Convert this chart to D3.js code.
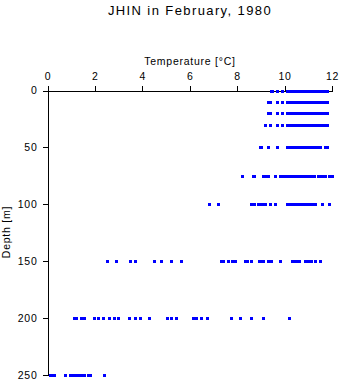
<!DOCTYPE html>
<html><head><meta charset="utf-8">
<script src="https://cdn.jsdelivr.net/npm/d3@7"></script>
<style>
body{margin:0;background:#fff;}
svg text{font-family:"Liberation Sans",Arial,sans-serif;fill:#000;}
</style></head>
<body><svg id="c" width="341" height="384"></svg>
<script>
const title = "JHIN in February, 1980";
const xLabel = "Temperature [°C]";
const yLabel = "Depth [m]";
const xTicks = [0, 2, 4, 6, 8, 10, 12];
const yTicks = [0, 50, 100, 150, 200, 250];
const depths = [0, 10, 20, 30, 50, 75, 100, 150, 200, 250];
const t0   = [9.42, 9.49, 9.70, 9.90, 10.11, 10.19, 10.28, 10.37, 10.45, 10.53, 10.62, 10.70, 10.79, 10.87, 10.96, 11.04, 11.13, 11.21, 11.30, 11.38, 11.47, 11.55, 11.64, 11.72, 11.81];
const t10  = [9.31, 9.40, 9.70, 9.89, 10.11, 10.20, 10.28, 10.36, 10.45, 10.54, 10.62, 10.71, 10.79, 10.88, 10.96, 11.05, 11.13, 11.22, 11.30, 11.39, 11.47, 11.56, 11.64, 11.73, 11.81];
const t20  = [9.31, 9.40, 9.70, 9.89, 10.11, 10.19, 10.27, 10.36, 10.44, 10.53, 10.61, 10.70, 10.78, 10.87, 10.95, 11.04, 11.12, 11.21, 11.29, 11.38, 11.46, 11.55, 11.63, 11.72, 11.81];
const t30  = [9.18, 9.40, 9.70, 9.89, 10.11, 10.20, 10.29, 10.37, 10.46, 10.54, 10.63, 10.71, 10.80, 10.88, 10.97, 11.05, 11.14, 11.22, 11.31, 11.39, 11.48, 11.56, 11.65, 11.73, 11.81];
const t50  = [8.98, 9.02, 9.31, 9.69, 10.11, 10.19, 10.28, 10.36, 10.45, 10.53, 10.62, 10.70, 10.79, 10.87, 10.96, 11.04, 11.13, 11.21, 11.30, 11.38, 11.46, 11.51, 11.71, 11.81];
const t75  = [8.22, 8.68, 8.73, 9.10, 9.20, 9.32, 9.61, 9.79, 9.83, 9.98, 10.06, 10.15, 10.23, 10.32, 10.40, 10.49, 10.57, 10.66, 10.74, 10.83, 10.91, 11.00, 11.08, 11.16, 11.22, 11.39, 11.47, 11.55, 11.63, 11.71, 11.89, 12.02];
const t100 = [6.81, 7.20, 8.60, 8.72, 8.89, 8.97, 9.05, 9.12, 9.19, 9.40, 9.61, 10.11, 10.19, 10.28, 10.36, 10.45, 10.53, 10.62, 10.70, 10.79, 10.87, 10.96, 11.04, 11.13, 11.21, 11.30, 11.59, 11.89];
const t150 = [2.50, 2.91, 3.50, 3.70, 4.50, 4.80, 5.20, 5.61, 7.30, 7.39, 7.60, 7.79, 7.89, 8.31, 8.41, 8.60, 8.90, 9.00, 9.11, 9.32, 9.41, 9.79, 10.30, 10.40, 10.50, 10.62, 10.88, 11.00, 11.12, 11.30, 11.51];
const t200 = [1.10, 1.21, 1.40, 1.52, 1.98, 2.11, 2.32, 2.61, 2.80, 2.99, 3.42, 3.70, 3.91, 4.30, 5.03, 5.20, 5.40, 6.12, 6.28, 6.49, 6.71, 7.72, 8.10, 8.59, 9.11, 10.19];
const t250 = [0.11, 0.20, 0.28, 0.72, 0.93, 1.02, 1.10, 1.18, 1.27, 1.35, 1.44, 1.52, 1.72, 1.81, 2.40];
const temps = [t0, t10, t20, t30, t50, t75, t100, t150, t200, t250];

const points = [];
depths.forEach((d, i) => temps[i].forEach(t => points.push({depth: d, temp: t})));

const svg = d3.select("#c");
const x = d3.scaleLinear().domain([0, 12]).range([47.5, 332]);
const y = d3.scaleLinear().domain([0, 250]).range([90.5, 375]);

svg.append("text").attr("x", 190).attr("y", 15).attr("text-anchor", "middle")
  .style("font-size", "13px").style("letter-spacing", "1.4px").text(title);

const small = {"font-size": "10.5px", "letter-spacing": "0.75px"};

const xa = svg.append("g").attr("transform", "translate(0,90.5)")
  .call(d3.axisTop(x).tickValues(xTicks).tickSize(5).tickSizeOuter(0).tickPadding(6).tickFormat(d3.format("d")));
const ya = svg.append("g").attr("transform", "translate(47.5,0)")
  .call(d3.axisLeft(y).tickValues(yTicks).tickSize(5).tickSizeOuter(0).tickPadding(5).tickFormat(d3.format("d")));
[xa, ya].forEach(a => {
  a.selectAll("path,line").attr("stroke", "#000").attr("shape-rendering", "crispEdges");
  a.selectAll("text").attr("fill", "#000").style("font-family", '"Liberation Sans",Arial,sans-serif')
    .style("font-size", small["font-size"]).style("letter-spacing", small["letter-spacing"]);
});

svg.append("text").attr("x", 190).attr("y", 65).attr("text-anchor", "middle")
  .style("font-size", small["font-size"]).style("letter-spacing", small["letter-spacing"]).text(xLabel);
svg.append("text").attr("transform", "translate(9.5,232) rotate(-90)").attr("text-anchor", "middle")
  .style("font-size", small["font-size"]).style("letter-spacing", small["letter-spacing"]).text(yLabel);

svg.append("g").selectAll("rect").data(points).join("rect")
  .attr("x", d => Math.round(x(d.temp)) - 1.5)
  .attr("y", d => Math.round(y(d.depth)) - 1.5)
  .attr("width", 3).attr("height", 3)
  .attr("fill", "#0000ff").attr("shape-rendering", "crispEdges");
</script></body></html>
